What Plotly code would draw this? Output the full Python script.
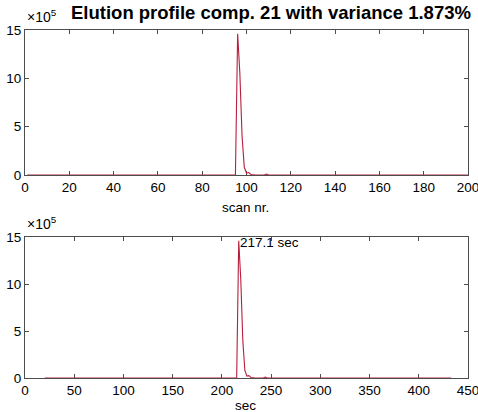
import plotly.graph_objects as go

# ---- data ----
scan_nr = list(range(1, 201))
# intensity in units of 1e5 (mostly zero baseline, single sharp peak at scan 96)
intensity = ([0.0] * 94 +
             [0.0, 14.6, 10.5, 4.0, 0.8, 0.2, 0.25, 0.05, 0.0, 0.0,
              0.0, 0.0, 0.0, 0.0, 0.1, 0.0] +
             [0.0] * 90)
scan_time_start = 19.93   # sec at scan 1
scan_interval = 2.0755    # sec per scan
peak_label = "217.1 sec"
peak_time = 217.1
title_text = "Elution profile comp. 21 with variance 1.873%"
x1_ticks = list(range(0, 201, 20))
x2_ticks = list(range(0, 451, 50))
y_ticks = [0, 5, 10, 15]

sec = [scan_time_start + scan_interval * (s - 1) for s in scan_nr]

W, H = 478, 412
L, R = 25, 468
def py(p):
    return 1 - p / H

LINE = "#B71E3C"
AX = "#4d4d4d"
FONT = "Liberation Sans, Arial, Helvetica, sans-serif"

fig = go.Figure()
fig.add_trace(go.Scatter(x=scan_nr, y=intensity, mode="lines",
                         line=dict(color=LINE, width=1.1), xaxis="x", yaxis="y",
                         hoverinfo="skip", showlegend=False, cliponaxis=False))
fig.add_trace(go.Scatter(x=sec, y=intensity, mode="lines",
                         line=dict(color=LINE, width=1.1), xaxis="x2", yaxis="y2",
                         hoverinfo="skip", showlegend=False, cliponaxis=False))

axcommon = dict(showgrid=False, zeroline=False, showline=True, linecolor=AX,
                linewidth=1, mirror="ticks", ticks="inside", ticklen=4,
                tickcolor=AX, tickfont=dict(family=FONT, size=13.5, color="black"),
                fixedrange=True, automargin=False, ticklabeloverflow="allow",
                layer="below traces")

fig.update_layout(
    width=W, height=H,
    margin=dict(l=0, r=0, t=0, b=0, autoexpand=False),
    paper_bgcolor="white", plot_bgcolor="white",
    font=dict(family=FONT, color="black"),
    xaxis=dict(domain=[L / W, R / W], range=[0, 200], tickvals=x1_ticks,
               anchor="y", **axcommon),
    yaxis=dict(domain=[py(175), py(30)], range=[0, 15], tickvals=y_ticks,
               anchor="x", **axcommon),
    xaxis2=dict(domain=[L / W, R / W], range=[0, 450], tickvals=x2_ticks,
                anchor="y2", **axcommon),
    yaxis2=dict(domain=[py(378), py(237)], range=[0, 15], tickvals=y_ticks,
                anchor="x2", **axcommon),
    annotations=[
        dict(text="<b>" + title_text + "</b>", x=271 / W, y=py(13),
             xref="paper", yref="paper", showarrow=False,
             xanchor="center", yanchor="middle",
             font=dict(family=FONT, size=18.5, color="black")),
        dict(text="×10<sup>5</sup>", x=25 / W, y=py(27), xref="paper",
             yref="paper", showarrow=False, xanchor="left", yanchor="bottom",
             font=dict(family=FONT, size=14, color="black")),
        dict(text="×10<sup>5</sup>", x=25 / W, y=py(234), xref="paper",
             yref="paper", showarrow=False, xanchor="left", yanchor="bottom",
             font=dict(family=FONT, size=14, color="black")),
        dict(text="scan nr.", x=246 / W, y=py(207), xref="paper",
             yref="paper", showarrow=False, xanchor="center", yanchor="middle",
             font=dict(family=FONT, size=13.5, color="black")),
        dict(text="sec", x=246 / W, y=py(405), xref="paper",
             yref="paper", showarrow=False, xanchor="center", yanchor="middle",
             font=dict(family=FONT, size=13.5, color="black")),
        dict(text=peak_label, x=peak_time, y=14.4, xref="x2", yref="y2",
             showarrow=False, xanchor="left", yanchor="middle", xshift=-1,
             font=dict(family=FONT, size=13.5, color="black")),
    ],
)

fig.write_html("out.html", config={"displayModeBar": False},
               post_script="document.body.style.margin='0';"
                           "document.body.style.overflow='hidden';")
